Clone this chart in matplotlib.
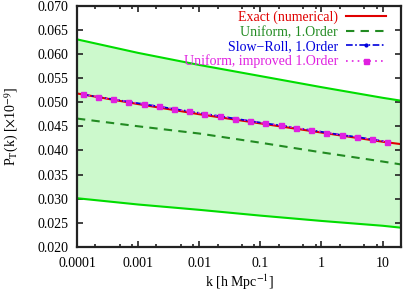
import numpy as np
import matplotlib
matplotlib.use("Agg")
import matplotlib.pyplot as plt
from matplotlib.ticker import LogLocator, NullFormatter

plt.rcParams['font.family'] = ['Liberation Serif', 'DejaVu Serif']
plt.rcParams['mathtext.fontset'] = 'stix'
plt.rcParams['font.size'] = 10

# curves (k in h/Mpc)
k = [1e-4, 1e-3, 1e-2, 1e-1, 1.0, 10.0, 20.0]
upper = [0.0630, 0.0602, 0.0577, 0.0554, 0.0531, 0.0509, 0.0503]
lower = [0.0301, 0.0288, 0.0277, 0.0265, 0.0254, 0.0244, 0.0240]
exact = [0.0518, 0.0496, 0.0475, 0.0456, 0.0437, 0.0418, 0.0413]
uniform = [0.0466, 0.0450, 0.0435, 0.0416, 0.0396, 0.0377, 0.0371]

# points with symbols (slow-roll / improved uniform)
k_pts = [1.24e-4, 2.20e-4, 3.90e-4, 6.93e-4, 1.23e-3, 2.18e-3, 3.87e-3,
         6.87e-3, 1.22e-2, 2.16e-2, 3.84e-2, 6.82e-2, 0.121, 0.215,
         0.381, 0.676, 1.20, 2.13, 3.78, 6.71, 11.9]
improved = [0.0516, 0.0511, 0.0506, 0.0501, 0.0496, 0.0491, 0.0486,
            0.0481, 0.0476, 0.0471, 0.0466, 0.0461, 0.0456, 0.0452,
            0.0447, 0.0442, 0.0437, 0.0432, 0.0428, 0.0423, 0.0418]
slowroll = improved

fig = plt.figure(figsize=(4.03, 2.93), dpi=100)
ax = fig.add_axes([0.191, 0.157, 0.804, 0.824])

ax.fill_between(k, lower, upper, color='#ccf9cc', lw=0)
ax.plot(k, upper, color='#00dd00', lw=1.5)
ax.plot(k, lower, color='#00dd00', lw=1.5)

ax.plot(k, exact, color='#e00000', lw=1.5, label='Exact (numerical)')
ax.plot(k, uniform, color='#228b22', lw=1.5, ls=(0, (4, 3)), label='Uniform, 1.Order')
ax.plot(k_pts, slowroll, color='#0000dd', lw=1.2, ls=(0, (4, 1.5, 1, 1.5)),
        marker='o', ms=2, label='Slow\u2212Roll, 1.Order')
ax.plot(k_pts, improved, color='#e020e0', lw=1.2, ls=(0, (1, 2.5)),
        marker='s', ms=3.6, label='Uniform, improved 1.Order')

ax.set_xscale('log')
ax.set_xlim(1e-4, 20)
ax.set_ylim(0.020, 0.070)
ax.set_yticks(np.arange(0.020, 0.0701, 0.005))
ax.yaxis.set_major_formatter(plt.FormatStrFormatter('%.3f'))
ax.set_xticks([1e-4, 1e-3, 1e-2, 1e-1, 1, 10])
ax.set_xticklabels(['0.0001', '0.001', '0.01', '0.1', '1', '10'])
ax.xaxis.set_minor_locator(LogLocator(base=10, subs=(2, 5, 8)))
ax.xaxis.set_minor_formatter(NullFormatter())

ax.tick_params(which='both', direction='in', top=True, right=True, width=1.2, color='#222222')
ax.tick_params(which='major', length=4)
ax.tick_params(axis='x', which='major', pad=7)
ax.tick_params(axis='y', which='major', pad=6)
ax.tick_params(which='minor', length=2)
for s in ax.spines.values():
    s.set_linewidth(1.6)
    s.set_color('#222222')

ax.set_xlabel('k [h Mpc$^{-1}$]', labelpad=2)
ax.set_ylabel(r'P$_\mathrm{T}$(k) [$\times$10$^{-9}$]', labelpad=12)

leg = ax.legend(loc='upper right', bbox_to_anchor=(0.985, 1.018), frameon=False,
                markerfirst=False, numpoints=1, handlelength=2.9,
                labelspacing=0.1, handletextpad=0.6, borderaxespad=0.3,
                labelcolor='linecolor')

fig.savefig('out.png', dpi=100)
